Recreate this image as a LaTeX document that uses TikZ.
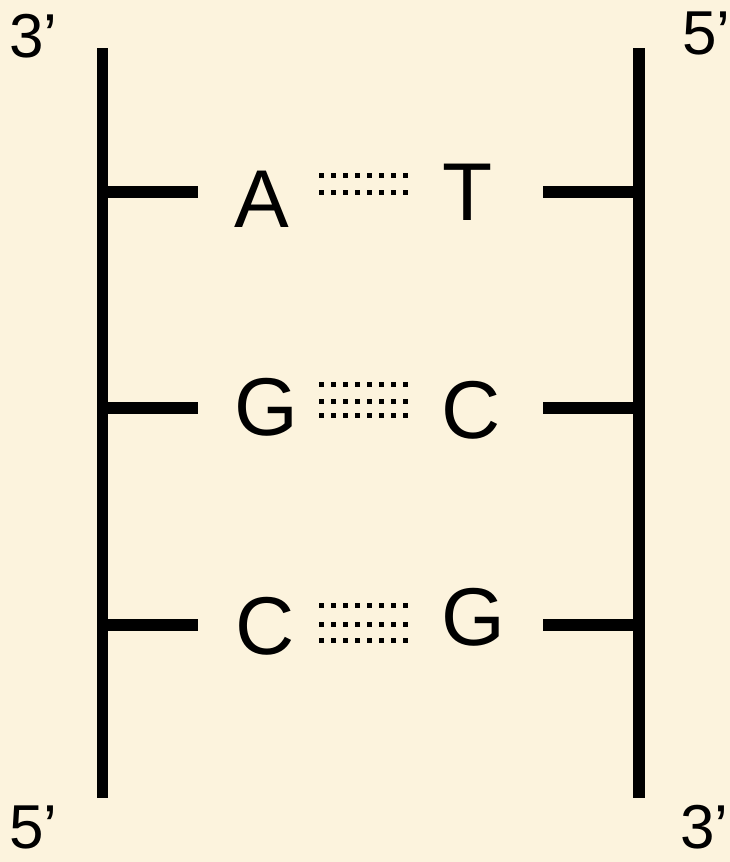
\documentclass[tikz,border=0pt]{standalone}
\usepackage{fontspec}
\setmainfont{Liberation Sans}
\begin{document}
\begin{tikzpicture}[x=1pt,y=-1pt,
  paper/.style={fill={rgb,255:red,252;green,243;blue,221}},
  backbone/.style={line width=11.5pt,line cap=butt},
  rung/.style={line width=12pt,line cap=butt},
  hbond/.style={line width=5pt,dash pattern=on 5pt off 7pt,line cap=butt},
  base/.style={inner sep=0pt,anchor=base,font=\fontsize{82}{82}\selectfont},
  endlabel/.style={inner sep=0pt,font=\fontsize{62}{62}\selectfont}]

% parchment background
\fill[paper] (0,0) rectangle (730,862);
\useasboundingbox (0,0) rectangle (730,862);

% sugar-phosphate backbones
\coordinate (L3) at (102.5,48);
\coordinate (L5) at (102.5,798);
\coordinate (R5) at (639,48);
\coordinate (R3) at (639,798);
\draw[backbone] (L3) -- (L5);
\draw[backbone] (R5) -- (R3);

% strand ends
\node[endlabel,anchor=base west] (l3) at (9,57) {3’};
\node[endlabel,anchor=base west] (r5) at (682,54) {5’};
\node[endlabel,anchor=base west] (l5) at (9,848) {5’};
\node[endlabel,anchor=base west] (r3) at (680,848) {3’};

% bases
\node[base] (A1) at (262,227) {A};
\node[base] (T1) at (468,220) {T};
\node[base] (G2) at (266,435) {G};
\node[base] (C2) at (471,438) {C};
\node[base] (C3) at (265,654) {C};
\node[base] (G3) at (473,645) {G};

% rungs joining each base to its backbone
\coordinate (la) at (198,192);
\coordinate (ra) at (543,192);
\coordinate (lb) at (198,408);
\coordinate (rb) at (543,408);
\coordinate (lc) at (198,625);
\coordinate (rc) at (543,625);
\draw[rung] (L3 |- la) -- (la);
\draw[rung] (ra) -- (R5 |- ra);
\draw[rung] (L3 |- lb) -- (lb);
\draw[rung] (rb) -- (R5 |- rb);
\draw[rung] (L3 |- lc) -- (lc);
\draw[rung] (rc) -- (R5 |- rc);

% hydrogen bonds: two for A-T, three for G-C
\foreach \y in {175.7,192.3}
  \draw[hbond] (319,\y) -- (408,\y);
\foreach \y in {384.7,401.3,415.7}
  \draw[hbond] (319,\y) -- (408,\y);
\foreach \y in {605.8,624.2,640}
  \draw[hbond] (319,\y) -- (408,\y);
\end{tikzpicture}
\end{document}
